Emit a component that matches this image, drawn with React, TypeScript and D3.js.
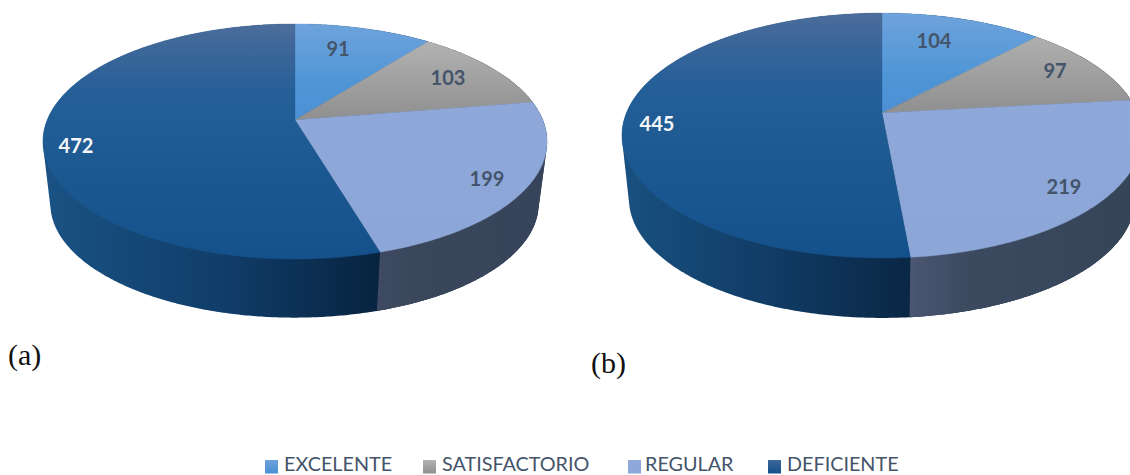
import React from "react";
import * as d3 from "d3";

const categories = ["EXCELENTE", "SATISFACTORIO", "REGULAR", "DEFICIENTE"];
const valuesA = [91, 103, 199, 472];
const valuesB = [104, 97, 219, 445];
const panelNames = ["(a)", "(b)"];

const INK = "#44546a";

// Projective disc: a unit circle seen in perspective. `k` is the foreshortening.
type Disc = { cx: number; cy: number; bx: number; ay: number; k: number };
type Pie3D = {
  id: string;
  values: number[];
  top: Disc;
  bottom: Disc;
  labels: [number, number][];
  sideStops: [string, string, string][];
};

const pieA: Pie3D = {
  id: "a",
  values: valuesA,
  top: { cx: 295, cy: 120, bx: 247.8, ay: 113.6, k: 0.183 },
  bottom: { cx: 294.5, cy: 183, bx: 240, ay: 110, k: 0.183 },
  labels: [[338, 49], [448, 78], [487, 179], [76, 146]],
  sideStops: [
    ["#3e4a62", "#3a465a", "#36435a"],
    ["#195283", "#103c68", "#07233f"],
  ],
};

const pieB: Pie3D = {
  id: "b",
  values: valuesB,
  top: { cx: 882, cy: 113, bx: 255.6, ay: 118.3, k: 0.184 },
  bottom: { cx: 882, cy: 177, bx: 248.7, ay: 115, k: 0.184 },
  labels: [[934, 41], [1055, 71], [1064, 187], [657, 124]],
  sideStops: [
    ["#4a5672", "#3c4a60", "#364458"],
    ["#18507f", "#103a63", "#0a2744"],
  ],
};

const legendSwatchX = [265, 423, 628, 768];
const legendTextX = [284, 442, 645, 787];

const toRad = Math.PI / 180;

// Maps a clockwise-from-north angle onto a disc's rim.
function rim(d: Disc, angle: number): [number, number] {
  const X = Math.sin(angle);
  const Y = -Math.cos(angle);
  const w = 1 - d.k * Y;
  return [d.cx + (d.bx * X) / w, d.cy + (d.ay * Y) / w];
}

const linePath = d3.line<[number, number]>().curve(d3.curveLinear);

function samples(a0: number, a1: number): number[] {
  const steps = Math.max(2, Math.ceil((a1 - a0) / (0.5 * toRad)));
  return d3.range(steps + 1).map((i) => a0 + ((a1 - a0) * i) / steps);
}

function PieChart({ pie }: { pie: Pie3D }) {
  const arcs = d3
    .pie<number>()
    .sort(null)
    .value((v) => v)
    .startAngle(0)
    .endAngle(2 * Math.PI)(pie.values);

  const full = samples(0, 2 * Math.PI);
  const hull = d3.polygonHull(
    full.flatMap((t) => [rim(pie.top, t), rim(pie.bottom, t)]) as [number, number][]
  )!;
  const hullPath = linePath(hull)! + "Z";

  // The only front-facing slice boundary separates the last two slices.
  const splitAngle = arcs[3].startAngle;
  const sTop = rim(pie.top, splitAngle);
  const sBot = rim(pie.bottom, splitAngle);
  const dx = (sBot[0] - sTop[0]) / (sBot[1] - sTop[1]);
  const clip: [number, number][] = [
    sTop,
    [sBot[0] + dx * 40, sBot[1] + 40],
    [sBot[0] + 500, sBot[1] + 40],
    [sBot[0] + 500, sTop[1] - 400],
    [sTop[0], sTop[1] - 400],
  ];

  const gid = (name: string) => `${pie.id}-${name}`;
  const topY = pie.top.cy - pie.top.ay / (1 + pie.top.k);
  const botY = pie.top.cy + pie.top.ay / (1 - pie.top.k);
  const leftX = pie.top.cx - pie.top.bx;
  const rightX = pie.top.cx + pie.top.bx;
  const fills = [gid("blue"), gid("grey"), gid("periwinkle"), gid("navy")];

  return (
    <g>
      <defs>
        <linearGradient id={gid("blue")} gradientUnits="userSpaceOnUse" x1="0" x2="0" y1={topY} y2={pie.top.cy}>
          <stop offset="0" stopColor="#6ea3dc" />
          <stop offset="0.6" stopColor="#5096d6" />
          <stop offset="1" stopColor="#4a90d4" />
        </linearGradient>
        <linearGradient id={gid("grey")} gradientUnits="userSpaceOnUse" x1="0" x2="0" y1={topY + 15} y2={pie.top.cy}>
          <stop offset="0" stopColor="#b3b3b3" />
          <stop offset="1" stopColor="#8f8f8f" />
        </linearGradient>
        <linearGradient id={gid("periwinkle")} gradientUnits="userSpaceOnUse" x1="0" x2="0" y1={topY} y2={botY}>
          <stop offset="0" stopColor="#90a9da" />
          <stop offset="1" stopColor="#8ca6d8" />
        </linearGradient>
        <linearGradient id={gid("navy")} gradientUnits="userSpaceOnUse" x1="0" x2="0" y1={topY} y2={botY}>
          <stop offset="0" stopColor="#4c6d9b" />
          <stop offset="0.12" stopColor="#3b6699" />
          <stop offset="0.3" stopColor="#245f98" />
          <stop offset="0.65" stopColor="#1c5890" />
          <stop offset="1" stopColor="#14508a" />
        </linearGradient>
        <linearGradient id={gid("side-right")} gradientUnits="userSpaceOnUse" x1={sTop[0]} x2={rightX} y1="0" y2="0">
          <stop offset="0" stopColor={pie.sideStops[0][0]} />
          <stop offset="0.25" stopColor={pie.sideStops[0][1]} />
          <stop offset="1" stopColor={pie.sideStops[0][2]} />
        </linearGradient>
        <linearGradient id={gid("side-left")} gradientUnits="userSpaceOnUse" x1={leftX} x2={sTop[0]} y1="0" y2="0">
          <stop offset="0" stopColor={pie.sideStops[1][0]} />
          <stop offset="0.55" stopColor={pie.sideStops[1][1]} />
          <stop offset="1" stopColor={pie.sideStops[1][2]} />
        </linearGradient>
        <clipPath id={gid("right-wall")}>
          <path d={linePath(clip)! + "Z"} />
        </clipPath>
      </defs>

      {/* Cylinder wall: one silhouette, divided at the visible slice boundary */}
      <path d={hullPath} fill={`url(#${gid("side-left")})`} />
      <path d={hullPath} fill={`url(#${gid("side-right")})`} clipPath={`url(#${gid("right-wall")})`} />

      {/* Upper face */}
      {arcs.map((a, i) => {
        const pts: [number, number][] = [
          [pie.top.cx, pie.top.cy],
          ...samples(a.startAngle, a.endAngle).map((t) => rim(pie.top, t)),
        ];
        return (
          <path
            key={i}
            d={linePath(pts)! + "Z"}
            fill={`url(#${fills[i]})`}
            stroke={`url(#${fills[i]})`}
            strokeWidth={0.4}
          />
        );
      })}

      {/* Value labels */}
      {pie.values.map((v, i) => (
        <text
          key={i}
          x={pie.labels[i][0]}
          y={pie.labels[i][1]}
          dy="0.36em"
          textAnchor="middle"
          fontFamily="Lato, sans-serif"
          fontSize={20}
          fontWeight={700}
          fill={i === 3 ? "#f4f6f9" : INK}
        >
          {v}
        </text>
      ))}
    </g>
  );
}

export default function App() {
  return (
    <svg
      width={1130}
      height={475}
      viewBox="0 0 1130 475"
      style={{ position: "absolute", left: 0, top: 0, background: "#fff" }}
    >
      <defs>
        <linearGradient id="sw-0" x1="0" x2="0" y1="0" y2="1">
          <stop offset="0" stopColor="#6ea3dc" />
          <stop offset="1" stopColor="#4a90d4" />
        </linearGradient>
        <linearGradient id="sw-1" x1="0" x2="0" y1="0" y2="1">
          <stop offset="0" stopColor="#b3b3b3" />
          <stop offset="1" stopColor="#8f8f8f" />
        </linearGradient>
        <linearGradient id="sw-2" x1="0" x2="0" y1="0" y2="1">
          <stop offset="0" stopColor="#90a9da" />
          <stop offset="1" stopColor="#8ca6d8" />
        </linearGradient>
        <linearGradient id="sw-3" x1="0" x2="0" y1="0" y2="1">
          <stop offset="0" stopColor="#3b6699" />
          <stop offset="1" stopColor="#14508a" />
        </linearGradient>
      </defs>

      <PieChart pie={pieA} />
      <PieChart pie={pieB} />

      <text x={8} y={365} fontFamily="'Liberation Serif', serif" fontSize={30} fill="#111">
        {panelNames[0]}
      </text>
      <text x={591} y={373} fontFamily="'Liberation Serif', serif" fontSize={30} fill="#111">
        {panelNames[1]}
      </text>

      {categories.map((c, i) => (
        <g key={c}>
          <rect x={legendSwatchX[i]} y={460} width={13} height={13.5} fill={`url(#sw-${i})`} />
          <text
            x={legendTextX[i]}
            y={470.7}
            fontFamily="Lato, sans-serif"
            fontSize={19.8}
            fill={INK}
          >
            {c}
          </text>
        </g>
      ))}
    </svg>
  );
}
